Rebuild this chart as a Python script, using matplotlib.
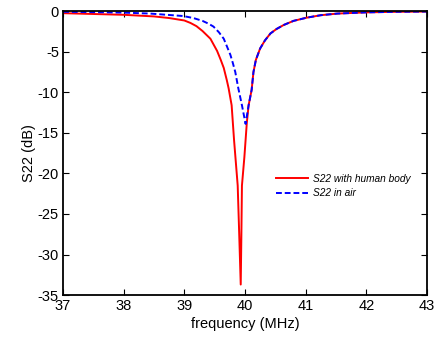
import matplotlib
matplotlib.use("Agg")
import matplotlib.pyplot as plt

plt.rcParams['font.family'] = ['Liberation Sans', 'DejaVu Sans']
plt.rcParams['axes.unicode_minus'] = False

# S22 with human body (red)
freq_body = [37, 37.5, 38, 38.5, 38.75, 39, 39.1, 39.2, 39.3, 39.43, 39.54, 39.6,
             39.65, 39.7, 39.73, 39.78, 39.82, 39.88, 39.905, 39.93, 39.94,
             39.95, 39.99, 40.03, 40.06, 40.11, 40.14, 40.18, 40.25, 40.33,
             40.42, 40.52, 40.64, 40.8, 41.02, 41.25, 41.52, 42, 42.5, 43]
s22_body = [-0.25, -0.35, -0.45, -0.65, -0.85, -1.15, -1.45, -1.85, -2.45, -3.4, -4.9, -6.0,
            -7.0, -8.5, -9.5, -11.6, -15.9, -21.5, -27.5, -33.7, -28.0,
            -21.5, -18.0, -13.8, -11.6, -9.7, -7.5, -6.0, -4.6, -3.6,
            -2.75, -2.2, -1.7, -1.2, -0.8, -0.5, -0.3, -0.15, -0.08, -0.05]

# S22 in air (blue dashed)
freq_air = [37, 37.5, 38, 38.44, 38.98, 39.15, 39.3, 39.4, 39.48, 39.57, 39.65,
            39.7, 39.76, 39.8, 39.84, 39.89, 39.95, 40.01, 40.06, 40.11,
            40.14, 40.18, 40.25, 40.33, 40.42, 40.52, 40.64, 40.8, 41.02,
            41.25, 41.52, 42, 42.5, 43]
s22_air = [-0.08, -0.12, -0.18, -0.3, -0.6, -0.85, -1.2, -1.55, -1.9, -2.6, -3.4,
           -4.3, -5.4, -6.4, -7.5, -9.5, -11.6, -13.9, -11.6, -9.7,
           -7.5, -6.0, -4.6, -3.6, -2.75, -2.2, -1.7, -1.2, -0.8,
           -0.5, -0.3, -0.15, -0.08, -0.05]

xticks = [37, 38, 39, 40, 41, 42, 43]
yticks = [0, -5, -10, -15, -20, -25, -30, -35]

fig = plt.figure(figsize=(4.41, 3.38), dpi=100)
ax = fig.add_axes([0.143, 0.127, 0.825, 0.840])

ax.plot(freq_body, s22_body, color='#FF0000', lw=1.4, label='S22 with human body')
ax.plot(freq_air, s22_air, color='#0000FF', lw=1.4, ls=(0, (3, 1.5)), label='S22 in air')

ax.set_xlim(37, 43)
ax.set_ylim(-35, 0)
ax.set_xticks(xticks)
ax.set_yticks(yticks)
ax.tick_params(direction='in', length=4, width=0.8, top=True, right=True,
               labelsize=10.5, pad=3)
for s in ax.spines.values():
    s.set_linewidth(1.3)

ax.set_xlabel('frequency (MHz)', fontsize=10.5, labelpad=3)
ax.set_ylabel('S22 (dB)', fontsize=10.5, labelpad=1)

leg = ax.legend(loc='upper left', bbox_to_anchor=(0.56, 0.46), frameon=False,
                prop={'style': 'italic', 'size': 7.3}, handlelength=3.2,
                handletextpad=0.5, labelspacing=0.45)

fig.savefig('out.png', dpi=100, facecolor='white')
